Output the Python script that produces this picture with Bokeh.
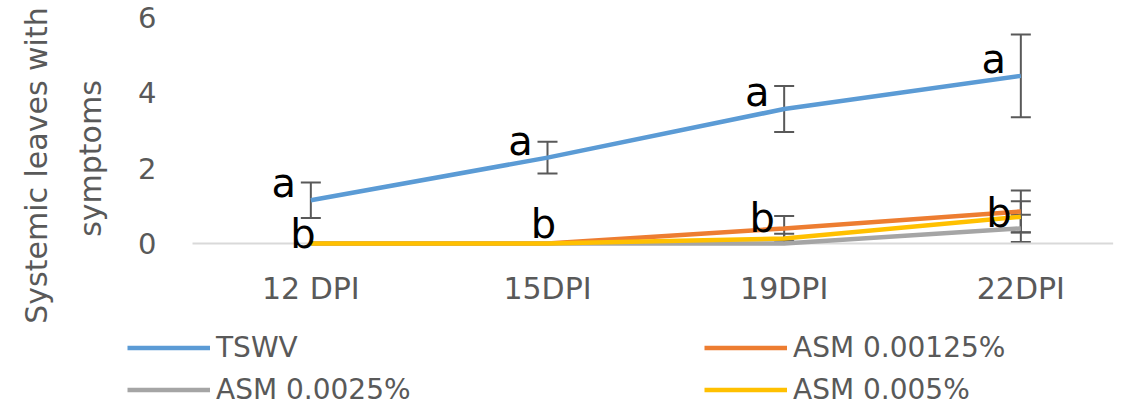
import math
from bokeh.plotting import figure
from bokeh.models import (ColumnDataSource, Range1d, FixedTicker, Legend, LegendItem,
                          Whisker, TeeHead, Label)
from bokeh.core.properties import value
from bokeh.embed import file_html
from bokeh.resources import INLINE

categories = ["12 DPI", "15DPI", "19DPI", "22DPI"]
series_names = ["TSWV", "ASM 0.00125%", "ASM 0.0025%", "ASM 0.005%"]
tswv = [1.15, 2.28, 3.57, 4.45]
tswv_err = [0.47, 0.42, 0.61, 1.10]
asm_00125 = [0.0, 0.0, 0.40, 0.85]
asm_00125_err = [0.0, 0.0, 0.33, 0.56]
asm_0025 = [0.0, 0.0, 0.0, 0.40]
asm_0025_err = [0.0, 0.0, 0.0, 0.36]
asm_005 = [0.0, 0.0, 0.13, 0.71]
asm_005_err = [0.0, 0.0, 0.13, 0.41]
letters_a = ["a", "a", "a", "a"]
letters_b = ["b", "b", "b", "b"]
y_ticks = [0, 2, 4, 6]
y_title_lines = ["Systemic leaves with", "symptoms"]

colors = ["#5B9BD5", "#ED7D31", "#A5A5A5", "#FFC000"]
FONT = "DejaVu Sans"
GREY_TXT = "#595959"

# plot-area geometry (category axis spans -0.5 .. 3.4; value axis 0 .. 6)
X_LO, X_HI = -0.5, 3.4
W, H = 1119, 406
FRAME_L, FRAME_R, FRAME_T, FRAME_B = 192, 1115, 17, 243
xs_px = (FRAME_R - FRAME_L) / (X_HI - X_LO)
ys_px = (FRAME_B - FRAME_T) / 6.0

x = list(range(len(categories)))

p = figure(width=W, height=H, output_backend="svg", toolbar_location=None,
           x_range=Range1d(X_LO - FRAME_L / xs_px, X_HI + (W - FRAME_R) / xs_px),
           y_range=Range1d(-(H - FRAME_B) / ys_px, 6 + FRAME_T / ys_px),
           min_border=0, min_border_left=0, min_border_right=0,
           min_border_top=0, min_border_bottom=0)
p.outline_line_color = None
p.xgrid.visible = False
p.ygrid.visible = False

# axes (drawn inside the canvas at fixed data locations)
p.xaxis.fixed_location = 0
p.xaxis.ticker = FixedTicker(ticks=x)
p.xaxis.major_label_overrides = {i: c for i, c in zip(x, categories)}
p.xaxis.axis_line_color = None
p.xaxis.major_tick_line_color = None
p.xaxis.minor_tick_line_color = None
p.xaxis.major_tick_out = 0
p.xaxis.major_tick_in = 0
p.xaxis.major_label_standoff = 27
p.xaxis.major_label_text_font = FONT
p.xaxis.major_label_text_font_size = "30px"
p.xaxis.major_label_text_color = GREY_TXT

p.yaxis.fixed_location = X_LO
p.yaxis.ticker = FixedTicker(ticks=y_ticks)
p.yaxis.axis_line_color = None
p.yaxis.major_tick_line_color = None
p.yaxis.minor_tick_line_color = None
p.yaxis.major_tick_out = 0
p.yaxis.major_tick_in = 0
p.yaxis.major_label_standoff = 36
p.yaxis.major_label_text_font = FONT
p.yaxis.major_label_text_font_size = "29px"
p.yaxis.major_label_text_color = GREY_TXT

# horizontal category-axis line at zero
p.line([X_LO, X_HI - 0.01], [0, 0], line_color="#D9D9D9", line_width=2)

# series
all_vals = [tswv, asm_00125, asm_0025, asm_005]
all_errs = [tswv_err, asm_00125_err, asm_0025_err, asm_005_err]
renderers = []
for vals, col in zip(all_vals, colors):
    renderers.append(p.line(x, vals, line_color=col, line_width=4.5))

# error bars (only where error > 0)
for vals, errs in zip(all_vals, all_errs):
    xs = [xi for xi, e in zip(x, errs) if e > 0]
    lo = [v - e for v, e in zip(vals, errs) if e > 0]
    hi = [v + e for v, e in zip(vals, errs) if e > 0]
    if not xs:
        continue
    src = ColumnDataSource(dict(x=xs, lower=lo, upper=hi))
    w = Whisker(source=src, base="x", lower="lower", upper="upper",
                line_color=GREY_TXT, line_width=2,
                upper_head=TeeHead(size=20, line_color=GREY_TXT, line_width=2),
                lower_head=TeeHead(size=20, line_color=GREY_TXT, line_width=2))
    p.add_layout(w)

# significance letters
src_a = ColumnDataSource(dict(x=x, y=tswv, t=letters_a))
p.text("x", "y", text="t", source=src_a, x_offset=-27, y_offset=-17,
       text_font=value(FONT), text_font_size=value("40px"), text_color="black",
       text_align="center", text_baseline="middle")
src_b = ColumnDataSource(dict(x=x, y=asm_00125, t=letters_b,
                              xo=[-8, -4, -22, -22], yo=[-10, -20, -10, 2]))
p.text("x", "y", text="t", source=src_b, x_offset="xo", y_offset="yo",
       text_font=value(FONT), text_font_size=value("40px"), text_color="black",
       text_align="center", text_baseline="middle")

# y-axis title (two rotated lines), screen px from the bottom-left corner
for txt, sx, sy in [(y_title_lines[0], 36, H - 165), (y_title_lines[1], 90, H - 158)]:
    p.add_layout(Label(x=sx, y=sy, x_units="screen", y_units="screen", text=txt,
                       angle=math.pi / 2, text_align="center", text_baseline="middle",
                       text_font=FONT, text_font_size="30px", text_color=GREY_TXT))

# legend: two columns (TSWV / ASM 0.0025% | ASM 0.00125% / ASM 0.005%)
order = [0, 2, 1, 3]
legend = Legend(items=[LegendItem(label=series_names[i], renderers=[renderers[i]]) for i in order],
                location=(127, 0), ncols=2, glyph_width=83, glyph_height=23,
                label_height=23, label_standoff=6, spacing=9, padding=0, margin=0,
                label_width=479, border_line_alpha=0, background_fill_alpha=0,
                label_text_font=FONT, label_text_font_size="28px",
                label_text_color=GREY_TXT)
p.add_layout(legend)

open("out.html", "w").write(file_html(p, INLINE))
